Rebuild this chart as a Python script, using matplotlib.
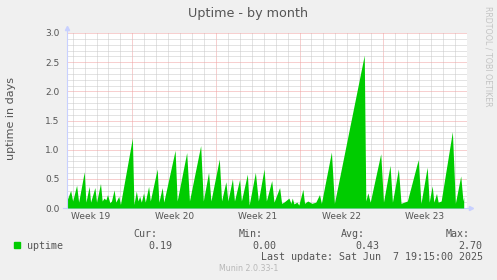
import matplotlib
matplotlib.use("Agg")
import matplotlib.pyplot as plt
from matplotlib.patches import Rectangle

# ----------------------------
# Data (days since left edge, uptime in days)
# ----------------------------
days = [
    0.00, 0.33, 0.50, 0.83, 1.00, 1.47, 1.61, 1.88, 2.00, 2.36, 2.50,
    2.83, 2.97, 3.13, 3.28, 3.42, 3.61, 3.75, 3.97, 4.11, 4.36, 4.50,
    5.50, 5.63, 5.83, 5.97, 6.11, 6.25, 6.44, 6.58, 6.86, 7.00, 7.58,
    7.72, 8.00, 8.13, 9.08, 9.25, 10.05, 10.28, 11.22, 11.44, 11.88,
    12.08, 12.78, 12.97, 13.33, 13.50, 13.88, 14.05, 14.48, 14.63,
    15.13, 15.28, 15.80, 16.05, 16.53, 16.72, 17.17, 17.36, 17.83,
    18.00, 18.19, 18.61, 18.78, 18.89, 19.03, 19.28, 19.44, 19.78,
    19.92, 20.19, 20.53, 20.86, 21.17, 21.33, 22.17, 22.42, 24.92,
    25.05, 25.22, 25.42, 26.30, 26.53, 27.08, 27.28, 27.78, 28.00,
    28.53, 29.44, 29.67, 30.19, 30.36, 30.61, 30.75, 30.97, 31.11,
    31.36, 32.30, 32.55, 33.00, 33.19, 33.25,
]
uptime = [
    0.12, 0.30, 0.12, 0.39, 0.10, 0.62, 0.10, 0.37, 0.10, 0.35, 0.10,
    0.42, 0.12, 0.17, 0.14, 0.23, 0.09, 0.12, 0.31, 0.10, 0.20, 0.06,
    1.20, 0.06, 0.29, 0.12, 0.20, 0.10, 0.26, 0.10, 0.37, 0.12, 0.67,
    0.10, 0.35, 0.10, 0.99, 0.12, 0.95, 0.12, 1.07, 0.12, 0.61,
    0.12, 0.84, 0.12, 0.45, 0.12, 0.50, 0.12, 0.49, 0.12,
    0.58, 0.05, 0.61, 0.12, 0.67, 0.12, 0.47, 0.10, 0.35,
    0.08, 0.10, 0.17, 0.08, 0.17, 0.07, 0.10, 0.05, 0.32,
    0.08, 0.12, 0.08, 0.10, 0.23, 0.08, 0.96, 0.08, 2.62,
    0.12, 0.26, 0.10, 0.93, 0.10, 0.73, 0.10, 0.67, 0.08,
    0.12, 0.83, 0.08, 0.70, 0.10, 0.38, 0.10, 0.25, 0.10,
    0.12, 1.31, 0.08, 0.55, 0.12, 0.19,
]

week_bounds = [5.5, 12.5, 19.5, 26.5]
week_centers = [2, 9, 16, 23, 30]
week_labels = ["Week 19", "Week 20", "Week 21", "Week 22", "Week 23"]
y_major = [0.0, 0.5, 1.0, 1.5, 2.0, 2.5, 3.0]

legend_cols = ["Cur:", "Min:", "Avg:", "Max:"]
legend_vals = ["0.19", "0.00", "0.43", "2.70"]

W, H = 497, 280
TXT = "#555555"
GREEN = "#00cc00"
AXIS = "#c8d0ff"


def fx(px):
    return px / W


def fy(py):
    return 1 - py / H


fig = plt.figure(figsize=(W / 100, H / 100), dpi=100, facecolor="#f0f0f0")
ax = fig.add_axes([fx(66.7), 72 / H, 400 / W, 175 / H])
ax.set_facecolor("white")

ax.fill_between(days, uptime, 0, color=GREEN, lw=0, zorder=3)

ax.set_xlim(0, 400 / 12)
ax.set_ylim(0, 3.0)

# grid
ax.set_xticks(week_bounds)
ax.set_xticks([d + 0.5 for d in range(34)], minor=True)
ax.set_yticks(y_major)
ax.set_yticks([i / 10 for i in range(31)], minor=True)
ax.grid(which="minor", color="#c8c8c8", lw=0.72, ls=(0, (1, 1)), zorder=1)
ax.grid(which="major", color="#f0a0a0", lw=0.72, ls=(0, (1, 1)), zorder=2)
ax.set_axisbelow(True)
for s in ax.spines.values():
    s.set_visible(False)
ax.tick_params(which="both", length=0)
ax.tick_params(axis="x", labelbottom=False)
ax.set_yticklabels([f"{v:.1f}" for v in y_major], fontsize=6.5, color=TXT)
ax.tick_params(axis="y", pad=5)

for c, lab in zip(week_centers, week_labels):
    ax.text(c, -0.05, lab, ha="center", va="center", fontsize=6.5, color=TXT,
            transform=ax.get_xaxis_transform())

# axis lines with arrows
ax.plot([0, 0], [0, 1.02], color=AXIS, lw=0.8, transform=ax.transAxes,
        clip_on=False, zorder=4)
ax.plot([0], [1.028], marker="^", ms=3, color=AXIS, transform=ax.transAxes,
        clip_on=False, zorder=4)
ax.plot([-0.01, 1.005], [0, 0], color=AXIS, lw=0.8, transform=ax.transAxes,
        clip_on=False, zorder=2)
ax.plot([1.01], [0], marker=">", ms=3, color=AXIS, transform=ax.transAxes,
        clip_on=False, zorder=4)

# ----------------------------
# Texts
# ----------------------------
fig.text(fx(248.3), fy(13.3), "Uptime - by month", ha="center", va="center",
         fontsize=9.2, color=TXT)
fig.text(fx(11), fy(119), "uptime in days", rotation=90, ha="center",
         va="center", fontsize=8, color=TXT)
fig.text(fx(488.3), fy(5.5), "RRDTOOL / TOBI OETIKER", rotation=270,
         ha="center", va="top", fontsize=5.7, color="#c4c4c4")

fig.patches.append(Rectangle((fx(14), fy(248.3)), 6 / W, 6 / H,
                             transform=fig.transFigure, color=GREEN))
mono = dict(family="DejaVu Sans Mono", fontsize=7.2, color=TXT, va="center")
fig.text(fx(26.7), fy(245.7), "uptime", ha="left", **mono)
col_right = [157.3, 262.7, 365.0, 469.3]
val_right = [172.3, 276.0, 379.3, 482.7]
for cx, vx, lab, val in zip(col_right, val_right, legend_cols, legend_vals):
    fig.text(fx(cx), fy(233.7), lab, ha="right", **mono)
    fig.text(fx(vx), fy(245.7), val, ha="right", **mono)
fig.text(fx(482.7), fy(257.3), "Last update: Sat Jun  7 19:15:00 2025",
         ha="right", **mono)
fig.text(fx(248.7), fy(268.5), "Munin 2.0.33-1", ha="center", va="center",
         fontsize=5.7, color="#b8b8b8")

fig.savefig("out.png", dpi=100, facecolor=fig.get_facecolor())
